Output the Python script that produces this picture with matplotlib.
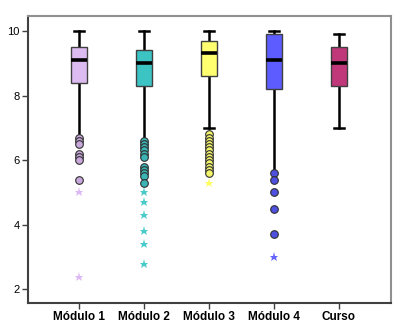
import matplotlib
matplotlib.use('Agg')
import matplotlib.pyplot as plt

# --- Data -------------------------------------------------------------------
labels = ['Módulo 1', 'Módulo 2', 'Módulo 3', 'Módulo 4', 'Curso']
q1 = [8.4, 8.3, 8.6, 8.2, 8.3]
medians = [9.1, 9.0, 9.3, 9.1, 9.0]
q3 = [9.5, 9.4, 9.7, 9.9, 9.5]
whisker_lo = [6.75, 6.65, 7.0, 5.65, 7.0]
whisker_hi = [10.0, 10.0, 10.0, 10.0, 9.9]

outliers_m1 = [6.7, 6.6, 6.5, 6.2, 6.1, 6.0, 5.4]
outliers_m2 = [6.6, 6.5, 6.4, 6.3, 6.2, 6.1, 5.8, 5.7, 5.6, 5.5, 5.3]
outliers_m3 = [6.8, 6.7, 6.6, 6.5, 6.4, 6.3, 6.2, 6.1, 6.0, 5.9, 5.8, 5.7, 5.6]
outliers_m4 = [5.6, 5.4, 5.0, 4.5, 3.7]
extremes_m1 = [5.0, 2.4]
extremes_m2 = [5.0, 4.7, 4.3, 3.8, 3.4, 2.8]
extremes_m3 = [5.3]
extremes_m4 = [3.0]

outliers = [outliers_m1, outliers_m2, outliers_m3, outliers_m4, []]
extremes = [extremes_m1, extremes_m2, extremes_m3, extremes_m4, []]

# --- Styles -------------------------------------------------------------------
BOX_COLORS = ['#dcbcf0', '#3cc4c4', '#ffff70', '#5c5cff', '#c0387a']
CIRCLE_COLORS = ['#c8a8dc', '#3ab4b4', '#f4f46a', '#5050e0', '#c0387a']
STAR_COLORS = ['#dcb8f4', '#48caca', '#ffff60', '#6464ff', '#c0387a']

fig = plt.figure(figsize=(3.96, 3.30), dpi=100)
ax = fig.add_axes([0.0707, 0.0818, 0.9163, 0.8697])

stats = []
for i in range(len(labels)):
    stats.append({'q1': q1[i], 'med': medians[i], 'q3': q3[i],
                  'whislo': whisker_lo[i], 'whishi': whisker_hi[i],
                  'fliers': [], 'label': labels[i]})

bp = ax.bxp(stats, positions=range(1, 6), widths=0.25, patch_artist=True,
            showfliers=False,
            boxprops=dict(edgecolor='#404040', linewidth=1.0),
            medianprops=dict(color='black', linewidth=2.6),
            whiskerprops=dict(color='black', linewidth=1.8),
            capprops=dict(color='black', linewidth=1.8),
            capwidths=0.15)
for patch, c in zip(bp['boxes'], BOX_COLORS):
    patch.set_facecolor(c)
    patch.set_zorder(3)
for m in bp['medians']:
    m.set_zorder(4)
# lower caps sit under the outlier circles in the original
for i in range(len(labels)):
    if outliers[i] and whisker_lo[i] - max(outliers[i]) < 0.2:
        bp['caps'][2 * i].set_visible(False)

for i in range(len(labels)):
    if extremes[i]:
        ax.plot([i + 1] * len(extremes[i]), extremes[i], linestyle='none',
                marker='*', markersize=6.5, color=STAR_COLORS[i],
                markeredgewidth=0, zorder=5)
    if outliers[i]:
        ax.plot([i + 1] * len(outliers[i]), outliers[i], linestyle='none',
                marker='o', markersize=5.5, markerfacecolor=CIRCLE_COLORS[i],
                markeredgecolor='#303030', markeredgewidth=0.8, zorder=5)

ax.set_xlim(0.22, 5.8)
ax.set_ylim(1.58, 10.46)
ax.set_yticks([2, 4, 6, 8, 10])
ax.set_yticklabels(['2', '4', '6', '8', '10'], fontsize=8,
                   family='Liberation Sans')
ax.set_xticks(range(1, 6))
ax.set_xticklabels(labels, fontsize=8.5, fontweight='bold',
                   family='Liberation Sans')
ax.tick_params(axis='both', length=4, width=1, color='#404040', pad=2)

ax.spines['left'].set_color('#404040')
ax.spines['bottom'].set_color('#404040')
ax.spines['top'].set_color('#909090')
ax.spines['right'].set_color('#909090')
for s in ax.spines.values():
    s.set_linewidth(1.5)

fig.savefig('out.png', dpi=100, facecolor='white')
